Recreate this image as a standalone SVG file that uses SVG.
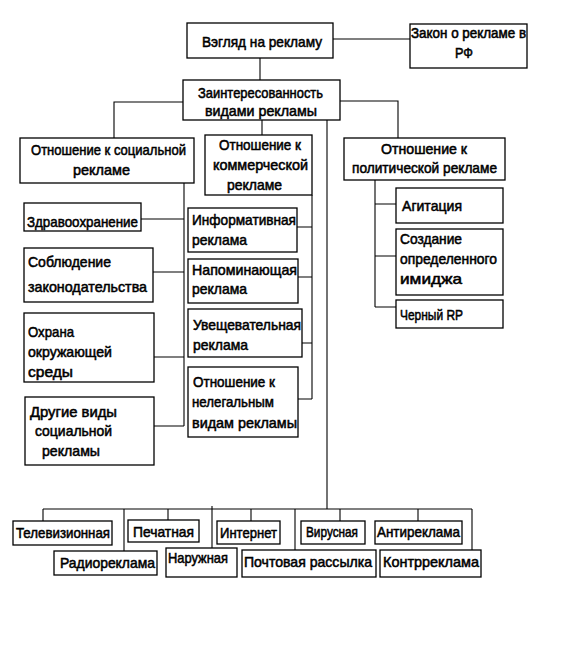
<svg xmlns="http://www.w3.org/2000/svg" width="564" height="656" viewBox="0 0 564 656">
<style>
rect{fill:#fff;stroke:#000;stroke-width:1.3}
.c path{fill:none;stroke:#000;stroke-width:1.1}
text{font-family:"Liberation Sans",Arial,sans-serif;font-size:15px;fill:#000;stroke:#000;stroke-width:0.55}
.s{font-size:14px}
</style>
<rect x="0" y="0" width="564" height="656" style="stroke:none"/>
<g class="c" id="connectors">
<path d="M333 39H410"/>
<path d="M260 58V80"/>
<path d="M183 102H114V138"/>
<path d="M340 101H398V138"/>
<path d="M262 120V135"/>
<path d="M327 120V509"/>
<path d="M43 509H472"/>
<path d="M184 183V426"/>
<path d="M141 219H184M153 272H184M154 357H184M154 426H184"/>
<path d="M312 195V399"/>
<path d="M297 227H312M298 277H312M302 343H312M298 399H312"/>
<path d="M375 180V307M375 204H396M375 256H396M375 307H396"/>
<path d="M43 509V521M124 509V551M168 509V520M212 506V548M251 509V521M295 509V550M340 509V521M418 509V521M472 509V550"/>
</g>
<g id="vzglyad"><rect x="187" y="23" width="146" height="35"/><text x="202" y="47" textLength="120" lengthAdjust="spacingAndGlyphs">Вэгляд на рекламу</text></g>
<g id="zakon"><rect x="410" y="24" width="117" height="44"/><text class="s" x="411" y="38" textLength="115" lengthAdjust="spacingAndGlyphs">Закон о рекламе в</text><text x="455" y="58" textLength="18" lengthAdjust="spacingAndGlyphs">РФ</text></g>
<g id="zainter"><rect x="183" y="80" width="157" height="40"/><text x="198" y="98" textLength="125" lengthAdjust="spacingAndGlyphs">Заинтересованность</text><text x="205" y="116" textLength="112" lengthAdjust="spacingAndGlyphs">видами рекламы</text></g>
<g id="social"><rect x="20" y="138" width="174" height="45"/><text x="31" y="155" textLength="155" lengthAdjust="spacingAndGlyphs">Отношение к социальной</text><text x="73" y="175" textLength="57" lengthAdjust="spacingAndGlyphs">рекламе</text></g>
<g id="commercial"><rect x="205" y="135" width="107" height="60"/><text x="219" y="150" textLength="82" lengthAdjust="spacingAndGlyphs">Отношение к</text><text x="213" y="170" textLength="95" lengthAdjust="spacingAndGlyphs">коммерческой</text><text x="227" y="190" textLength="55" lengthAdjust="spacingAndGlyphs">рекламе</text></g>
<g id="political"><rect x="344" y="138" width="161" height="42"/><text x="381" y="154" textLength="86" lengthAdjust="spacingAndGlyphs">Отношение к</text><text x="352" y="173" textLength="145" lengthAdjust="spacingAndGlyphs">политической рекламе</text></g>
<g id="zdrav"><rect x="24" y="203" width="117" height="28"/><text x="27" y="227" textLength="111" lengthAdjust="spacingAndGlyphs">Здравоохранение</text></g>
<g id="sobl"><rect x="24" y="248" width="129" height="54"/><text x="28" y="267" textLength="83" lengthAdjust="spacingAndGlyphs">Соблюдение</text><text x="28" y="292" textLength="119" lengthAdjust="spacingAndGlyphs">законодательства</text></g>
<g id="ohrana"><rect x="24" y="313" width="130" height="69"/><text x="28" y="337" textLength="46" lengthAdjust="spacingAndGlyphs">Охрана</text><text x="28" y="357" textLength="84" lengthAdjust="spacingAndGlyphs">окружающей</text><text x="28" y="377" textLength="45" lengthAdjust="spacingAndGlyphs">среды</text></g>
<g id="drugie"><rect x="25" y="397" width="129" height="68"/><text x="30" y="417" textLength="87" lengthAdjust="spacingAndGlyphs">Другие виды</text><text x="35" y="436" textLength="77" lengthAdjust="spacingAndGlyphs">социальной</text><text x="42" y="456" textLength="58" lengthAdjust="spacingAndGlyphs">рекламы</text></g>
<g id="inform"><rect x="188" y="208" width="109" height="44"/><text x="192" y="225" textLength="104" lengthAdjust="spacingAndGlyphs">Информативная</text><text x="192" y="245" textLength="55" lengthAdjust="spacingAndGlyphs">реклама</text></g>
<g id="napom"><rect x="188" y="259" width="110" height="44"/><text x="192" y="275" textLength="105" lengthAdjust="spacingAndGlyphs">Напоминающая</text><text x="192" y="294" textLength="55" lengthAdjust="spacingAndGlyphs">реклама</text></g>
<g id="uvesch"><rect x="188" y="309" width="114" height="48"/><text x="193" y="330" textLength="108" lengthAdjust="spacingAndGlyphs">Увещевательная</text><text x="193" y="350" textLength="55" lengthAdjust="spacingAndGlyphs">реклама</text></g>
<g id="neleg"><rect x="188" y="367" width="110" height="70"/><text x="193" y="387" textLength="82" lengthAdjust="spacingAndGlyphs">Отношение к</text><text x="192" y="407" textLength="82" lengthAdjust="spacingAndGlyphs">нелегальным</text><text x="192" y="428" textLength="105" lengthAdjust="spacingAndGlyphs">видам рекламы</text></g>
<g id="agit"><rect x="396" y="188" width="107" height="35"/><text x="402" y="211" textLength="60" lengthAdjust="spacingAndGlyphs">Агитация</text></g>
<g id="sozd"><rect x="396" y="229" width="107" height="66"/><text x="400" y="244" textLength="62" lengthAdjust="spacingAndGlyphs">Создание</text><text x="400" y="264" textLength="97" lengthAdjust="spacingAndGlyphs">определенного</text><text x="400" y="284" textLength="62" lengthAdjust="spacingAndGlyphs">имиджа</text></g>
<g id="cherny"><rect x="396" y="300" width="107" height="28"/><text x="400" y="320" textLength="63" lengthAdjust="spacingAndGlyphs">Черный RP</text></g>
<g id="tv"><rect x="13" y="521" width="99" height="24"/><text x="16" y="538" textLength="94" lengthAdjust="spacingAndGlyphs">Телевизионная</text></g>
<g id="radio"><rect x="54" y="551" width="103" height="24"/><text x="60" y="568" textLength="95" lengthAdjust="spacingAndGlyphs">Радиореклама</text></g>
<g id="pechat"><rect x="128" y="520" width="71" height="22"/><text x="133" y="537" textLength="61" lengthAdjust="spacingAndGlyphs">Печатная</text></g>
<g id="naruzh"><rect x="166" y="548" width="71" height="29"/><text x="168" y="563" textLength="60" lengthAdjust="spacingAndGlyphs">Наружная</text></g>
<g id="internet"><rect x="217" y="521" width="63" height="23"/><text x="220" y="538" textLength="57" lengthAdjust="spacingAndGlyphs">Интернет</text></g>
<g id="pocht"><rect x="242" y="550" width="134" height="27"/><text x="244" y="567" textLength="128" lengthAdjust="spacingAndGlyphs">Почтовая рассылка</text></g>
<g id="virus"><rect x="301" y="521" width="64" height="23"/><text x="306" y="537" textLength="52" lengthAdjust="spacingAndGlyphs">Вирусная</text></g>
<g id="anti"><rect x="375" y="521" width="87" height="23"/><text x="377" y="537" textLength="83" lengthAdjust="spacingAndGlyphs">Антиреклама</text></g>
<g id="kontr"><rect x="380" y="550" width="101" height="27"/><text x="383" y="567" textLength="96" lengthAdjust="spacingAndGlyphs">Контрреклама</text></g>
</svg>
